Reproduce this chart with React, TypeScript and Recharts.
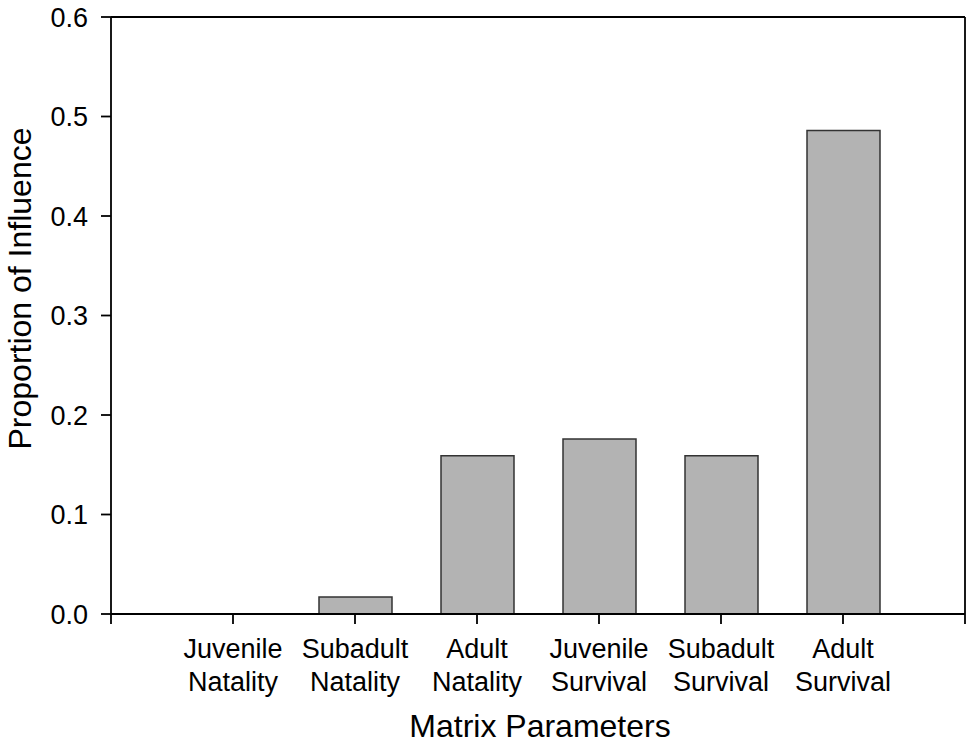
import { BarChart, Bar, XAxis, YAxis, ReferenceLine } from 'recharts';

const categories = [
  ['Juvenile', 'Natality'],
  ['Subadult', 'Natality'],
  ['Adult', 'Natality'],
  ['Juvenile', 'Survival'],
  ['Subadult', 'Survival'],
  ['Adult', 'Survival'],
];
const influence = [0, 0.017, 0.159, 0.176, 0.159, 0.486];
const yTicks = [0, 0.1, 0.2, 0.3, 0.4, 0.5, 0.6];
const xTicks = [0, 1, 2, 3, 4, 5, 6, 7];

const data = categories.map((c, i) => ({ pos: i + 1, name: c, value: influence[i] }));

const FONT = '"Liberation Sans", Arial, Helvetica, sans-serif';

function XTick(props: any) {
  const { x, y, payload } = props;
  const cat = categories[payload.value - 1];
  if (!cat) return null;
  return (
    <text x={x} y={y} textAnchor="middle" fontFamily={FONT} fontSize={27} fill="#000">
      <tspan x={x} dy={32}>{cat[0]}</tspan>
      <tspan x={x} dy={33}>{cat[1]}</tspan>
    </text>
  );
}

function YLabel(props: any) {
  const vb = props.viewBox || { x: 0, y: 17, width: 111, height: 597 };
  const cx = vb.x + 20;
  const cy = vb.y + vb.height / 2 - 27;
  return (
    <text
      x={cx}
      y={cy}
      transform={`rotate(-90, ${cx}, ${cy})`}
      textAnchor="middle"
      dominantBaseline="central"
      fontFamily={FONT}
      fontSize={32}
      fill="#000"
    >
      Proportion of Influence
    </text>
  );
}

function XLabel(props: any) {
  const vb = props.viewBox || { x: 111, y: 614, width: 854, height: 132 };
  return (
    <text
      x={vb.x + vb.width / 2 + 2}
      y={vb.y + vb.height - 9}
      textAnchor="middle"
      fontFamily={FONT}
      fontSize={32}
      fill="#000"
    >
      Matrix Parameters
    </text>
  );
}

export default function App() {
  return (
    <div style={{ width: 970, height: 746, background: '#fff' }}>
      <style>{`body{margin:0}`}</style>
      <BarChart
        width={970}
        height={746}
        data={data}
        margin={{ top: 17, right: 5, bottom: 0, left: 0 }}
      >
        <XAxis
          dataKey="pos"
          type="number"
          domain={[0, 7]}
          ticks={xTicks}
          interval={0}
          height={132}
          tickSize={10}
          tick={<XTick />}
          axisLine={{ stroke: '#000', strokeWidth: 1.8 }}
          tickLine={{ stroke: '#000', strokeWidth: 1.8 }}
          label={<XLabel />}
          allowDataOverflow
        />
        <YAxis
          domain={[0, 0.6]}
          ticks={yTicks}
          interval={0}
          width={111}
          tickSize={10}
          tickMargin={13}
          tickFormatter={(v: number) => v.toFixed(1)}
          tick={{ fontFamily: FONT, fontSize: 27, fill: '#000' }}
          axisLine={{ stroke: '#000', strokeWidth: 1.8 }}
          tickLine={{ stroke: '#000', strokeWidth: 1.8 }}
          label={<YLabel />}
        />
        <ReferenceLine y={0.6} stroke="#000" strokeWidth={1.8} />
        <ReferenceLine x={7} stroke="#000" strokeWidth={1.8} />
        <Bar
          dataKey="value"
          barSize={73}
          fill="#b3b3b3"
          stroke="#333"
          strokeWidth={1.5}
          isAnimationActive={false}
        />
      </BarChart>
    </div>
  );
}
